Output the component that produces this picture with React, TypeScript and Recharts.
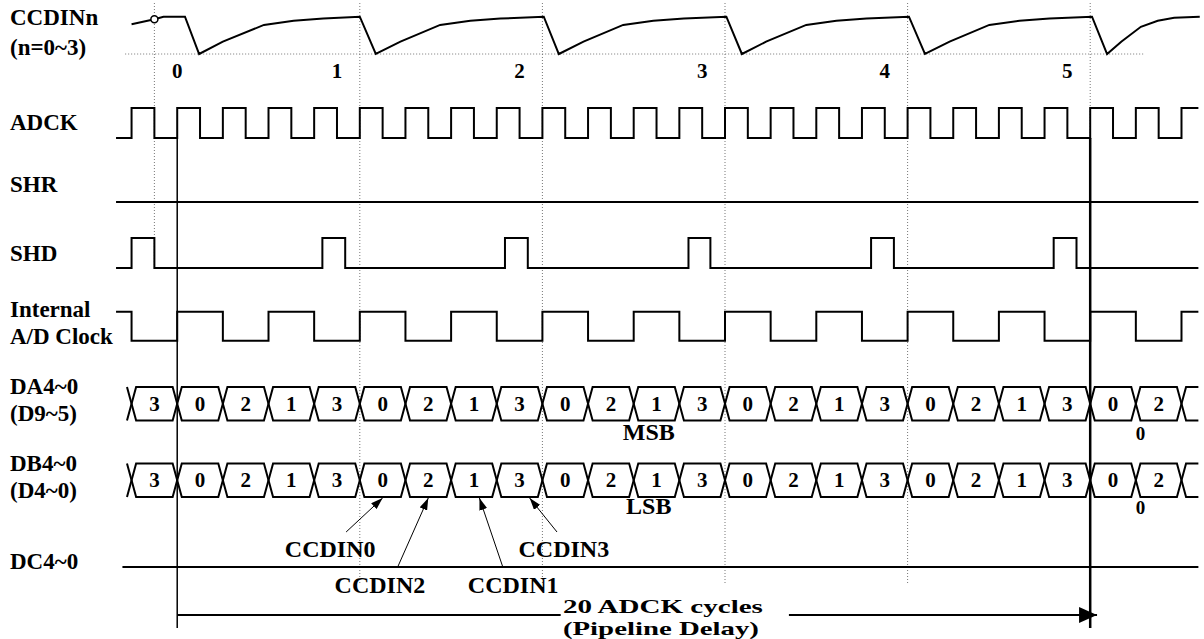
import { ComposedChart, Line, Scatter, XAxis, YAxis } from "recharts";

const W = 1204;
const H = 639;
const FONT = '"Liberation Serif", "Times New Roman", serif';

// time axis in ADCK cycles, 0 = start of the 20-cycle pipeline delay
const T_MIN = -3.882;
const T_MAX = 22.493;

// CCDINn analog input (time, normalized level 0 = dip, 1 = settled)
const ccdinT = [-1.0, -0.5, -0.3, 0.17, 0.48, 1.0, 1.9, 2.55, 3.2, 4.0, 4.35, 4.89, 5.76, 6.42, 7.08, 8.03, 8.36, 8.9, 9.77, 10.43, 11.1, 12.03, 12.37, 12.9, 13.78, 14.44, 15.1, 16.03, 16.38, 16.92, 17.79, 18.45, 19.11, 20.04, 20.37, 20.68, 21.11, 21.48, 21.84, 22.4];
const ccdinV = [0.8, 0.93, 1.0, 1.0, 0, 0.33, 0.78, 0.89, 0.95, 1.0, 0, 0.33, 0.78, 0.89, 0.95, 1.0, 0, 0.33, 0.78, 0.89, 0.95, 1.0, 0, 0.33, 0.78, 0.89, 0.95, 1.0, 0, 0.33, 0.78, 0.89, 0.95, 1.0, 0, 0.33, 0.73, 0.89, 0.97, 1.0];
const ccdinSampleT = [-0.5];
const ccdinSampleV = [0.93];
const ccdinFloorT = [-1.14, 21.16];

// ADCK
const adckT = [-1.34, -1, -0.5, 0, 0.5, 1, 1.5, 2, 2.5, 3, 3.5, 4, 4.5, 5, 5.5, 6, 6.5, 7, 7.5, 8, 8.5, 9, 9.5, 10, 10.5, 11, 11.5, 12, 12.5, 13, 13.5, 14, 14.5, 15, 15.5, 16, 16.5, 17, 17.5, 18, 18.5, 19, 19.5, 20, 20.5, 21, 21.5, 22, 22.37];
const adckV = [0, 1, 0, 1, 0, 1, 0, 1, 0, 1, 0, 1, 0, 1, 0, 1, 0, 1, 0, 1, 0, 1, 0, 1, 0, 1, 0, 1, 0, 1, 0, 1, 0, 1, 0, 1, 0, 1, 0, 1, 0, 1, 0, 1, 0, 1, 0, 1, 1];

// SHR (held low)
const shrT = [-1.34, 22.37];
const shrV = [0, 0];

// SHD
const shdT = [-1.34, -1, -0.5, 3.18, 3.68, 7.18, 7.68, 11.2, 11.68, 15.2, 15.7, 19.2, 19.7, 22.37];
const shdV = [0, 1, 0, 1, 0, 1, 0, 1, 0, 1, 0, 1, 0, 0];

// Internal A/D clock
const adClkT = [-1.34, -1, 0, 1, 2, 3, 4, 5, 6, 7, 8, 9, 10, 11, 12, 13, 14, 15, 16, 17, 18, 19, 20, 21, 22, 22.37];
const adClkV = [1, 0, 1, 0, 1, 0, 1, 0, 1, 0, 1, 0, 1, 0, 1, 0, 1, 0, 1, 0, 1, 0, 1, 0, 1, 1];

// output buses
const busEdges = [-1, 0, 1, 2, 3, 4, 5, 6, 7, 8, 9, 10, 11, 12, 13, 14, 15, 16, 17, 18, 19, 20, 21, 22];
const busEnd = 22.37;
const daCodes = ["3", "0", "2", "1", "3", "0", "2", "1", "3", "0", "2", "1", "3", "0", "2", "1", "3", "0", "2", "1", "3", "0", "2"];
const dbCodes = ["3", "0", "2", "1", "3", "0", "2", "1", "3", "0", "2", "1", "3", "0", "2", "1", "3", "0", "2", "1", "3", "0", "2"];
const dcT = [-1.2, 22.37];
const dcV = [0, 0];

// pixel markers
const pixelMarkT = [-0.5, 4, 8, 12, 16, 20];
const pixelLabelT = [0, 3.5, 7.5, 11.5, 15.5, 19.5];
const pixelLabels = ["0", "1", "2", "3", "4", "5"];

// CCDIN call-outs on DB4~0
const tagNames = ["CCDIN0", "CCDIN2", "CCDIN1", "CCDIN3"];
const tagTipT = [4.5, 5.5, 6.62, 7.72];
const tagTailT = [3.7, 4.82, 7.14, 8.32];
const tagTextT = [3.35, 4.44, 7.36, 8.47];

const pipelineStart = 0;
const pipelineEnd = 20;

// vertical layout of each row (px)
const ROW = {
  ccdin: { hi: 16.7, lo: 54 },
  adck: { hi: 108, lo: 138 },
  shr: { hi: 172, lo: 202 },
  shd: { hi: 238, lo: 268 },
  adclk: { hi: 311.7, lo: 340.7 },
  da: { hi: 387, lo: 420.5 },
  db: { hi: 463.5, lo: 497 },
  dc: { hi: 537, lo: 567 },
};
type Row = { hi: number; lo: number };

const lvl = (row: Row, v: number) => row.lo - v * (row.lo - row.hi);
const wave = (ts: number[], vs: number[], row: Row) => ts.map((t, i) => ({ t, y: lvl(row, vs[i]) }));

const X = 0.1; // half width of a bus crossing
function busLines(row: Row) {
  const a: { t: number; y: number }[] = [];
  const b: { t: number; y: number }[] = [];
  busEdges.forEach((e, i) => {
    const even = i % 2 === 0;
    a.push({ t: e - X, y: even ? row.hi : row.lo }, { t: e + X, y: even ? row.lo : row.hi });
    b.push({ t: e - X, y: even ? row.lo : row.hi }, { t: e + X, y: even ? row.hi : row.lo });
  });
  const lastEven = (busEdges.length - 1) % 2 === 0;
  a.push({ t: busEnd, y: lastEven ? row.lo : row.hi });
  b.push({ t: busEnd, y: lastEven ? row.hi : row.lo });
  return [a, b];
}

const [daA, daB] = busLines(ROW.da);
const [dbA, dbB] = busLines(ROW.db);

const PIPE_Y = 615;

type Seg = { key: string; data: { t: number; y: number }[]; step?: boolean; w?: number; dash?: string; color?: string; marker?: string };

const lines: Seg[] = [
  ...pixelMarkT.map((t, i) => ({
    key: "mark" + i,
    data: [{ t, y: 3 }, { t, y: i === 0 ? 268 : 583 }],
    w: 1,
    dash: "1 2",
    color: "#777",
  })),
  { key: "floor", data: ccdinFloorT.map((t) => ({ t, y: ROW.ccdin.lo })), w: 1, dash: "1 2", color: "#777" },
  { key: "ccdin", data: wave(ccdinT, ccdinV, ROW.ccdin) },
  { key: "adck", data: wave(adckT, adckV, ROW.adck), step: true },
  { key: "shr", data: wave(shrT, shrV, ROW.shr), step: true },
  { key: "shd", data: wave(shdT, shdV, ROW.shd), step: true },
  { key: "adclk", data: wave(adClkT, adClkV, ROW.adclk), step: true },
  { key: "daA", data: daA },
  { key: "daB", data: daB },
  { key: "dbA", data: dbA },
  { key: "dbB", data: dbB },
  { key: "dc", data: wave(dcT, dcV, ROW.dc), step: true },
  { key: "start", data: [{ t: pipelineStart, y: ROW.adck.lo }, { t: pipelineStart, y: 628 }], w: 1.5 },
  { key: "end", data: [{ t: pipelineEnd, y: ROW.adck.lo }, { t: pipelineEnd, y: 628 }], w: 2.5 },
  { key: "pipeL", data: [{ t: pipelineStart, y: PIPE_Y }, { t: 8.4, y: PIPE_Y }], w: 2 },
  { key: "pipeR", data: [{ t: 13.4, y: PIPE_Y }, { t: pipelineEnd + 0.15, y: PIPE_Y }], w: 2, marker: "url(#tipLarge)" },
  ...tagNames.map((n, i) => ({
    key: "tag" + n,
    data: [
      { t: tagTailT[i], y: i === 0 || i === 3 ? 532 : 568 },
      { t: tagTipT[i], y: ROW.db.lo + 1 },
    ],
    w: 1,
    marker: "url(#tipSmall)",
  })),
];

type Txt = { t: number; y: number; text: string; size: number; anchor?: string; len?: number };
const texts: Txt[] = [
  ...pixelLabels.map((s, i) => ({ t: pixelLabelT[i], y: 71, text: s, size: 21 })),
  ...daCodes.map((s, i) => ({ t: (busEdges[i] + busEdges[i + 1]) / 2, y: (ROW.da.hi + ROW.da.lo) / 2, text: s, size: 21 })),
  ...dbCodes.map((s, i) => ({ t: (busEdges[i] + busEdges[i + 1]) / 2, y: (ROW.db.hi + ROW.db.lo) / 2, text: s, size: 21 })),
  { t: 10.33, y: 432, text: "MSB", size: 24 },
  { t: 10.33, y: 506, text: "LSB", size: 24 },
  { t: 21.1, y: 433, text: "0", size: 19 },
  { t: 21.1, y: 507, text: "0", size: 19 },
  ...tagNames.map((s, i) => ({ t: tagTextT[i], y: i === 0 || i === 3 ? 549 : 585, text: s, size: 24 })),
  { t: 8.45, y: 606, text: "20 ADCK cycles", size: 19, anchor: "start", len: 200 },
  { t: 8.45, y: 628, text: "(Pipeline Delay)", size: 19, anchor: "start", len: 196 },
];

const rowLabels = [
  { text: "CCDINn", y: 18 },
  { text: "(n=0~3)", y: 48 },
  { text: "ADCK", y: 123 },
  { text: "SHR", y: 185 },
  { text: "SHD", y: 254 },
  { text: "Internal", y: 310 },
  { text: "A/D Clock", y: 337 },
  { text: "DA4~0", y: 387 },
  { text: "(D9~5)", y: 414 },
  { text: "DB4~0", y: 464 },
  { text: "(D4~0)", y: 491 },
  { text: "DC4~0", y: 562 },
];

const TextMark = (props: any) => {
  const { cx, cy, payload } = props;
  return (
    <text
      x={cx}
      y={cy}
      textAnchor={payload.anchor || "middle"}
      dominantBaseline="central"
      fontFamily={FONT}
      fontWeight="bold"
      fontSize={payload.size}
      textLength={payload.len}
      lengthAdjust={payload.len ? "spacingAndGlyphs" : undefined}
      fill="#000"
    >
      {payload.text}
    </text>
  );
};

const SampleDot = (props: any) => (
  <circle cx={props.cx} cy={props.cy} r={3.5} fill="#fff" stroke="#000" strokeWidth={1.5} />
);

export default function App() {
  return (
    <div style={{ position: "absolute", left: 0, top: 0, width: W, height: H, background: "#fff", overflow: "hidden" }}>
      <svg width={0} height={0} style={{ position: "absolute" }}>
        <defs>
          <marker id="tipSmall" viewBox="0 0 12 8" refX="12" refY="4" markerWidth="12" markerHeight="8" markerUnits="userSpaceOnUse" orient="auto">
            <path d="M0,0 L12,4 L0,8 z" fill="#000" />
          </marker>
          <marker id="tipLarge" viewBox="0 0 18 16" refX="18" refY="8" markerWidth="18" markerHeight="16" markerUnits="userSpaceOnUse" orient="auto">
            <path d="M0,0 L18,8 L0,16 z" fill="#000" />
          </marker>
        </defs>
      </svg>
      <ComposedChart width={W} height={H} margin={{ top: 0, right: 0, bottom: 0, left: 0 }}>
        <XAxis type="number" dataKey="t" domain={[T_MIN, T_MAX]} allowDataOverflow hide />
        <YAxis type="number" dataKey="y" domain={[0, H]} reversed allowDataOverflow hide />
        {lines.map((s) => (
          <Line
            key={s.key}
            data={s.data}
            dataKey="y"
            type={s.step ? "stepAfter" : "linear"}
            stroke={s.color || "#000"}
            strokeWidth={s.w || 2}
            strokeDasharray={s.dash}
            markerEnd={s.marker}
            dot={false}
            activeDot={false}
            isAnimationActive={false}
          />
        ))}
        <Scatter
          data={ccdinSampleT.map((t, i) => ({ t, y: lvl(ROW.ccdin, ccdinSampleV[i]) }))}
          dataKey="y"
          shape={SampleDot}
          isAnimationActive={false}
        />
        <Scatter data={texts} dataKey="y" shape={TextMark} isAnimationActive={false} />
      </ComposedChart>
      {rowLabels.map((r) => (
        <div
          key={r.text}
          style={{
            position: "absolute",
            left: 10,
            top: r.y,
            transform: "translateY(-50%)",
            fontFamily: FONT,
            fontWeight: "bold",
            fontSize: 23,
            lineHeight: "20px",
            whiteSpace: "nowrap",
            color: "#000",
          }}
        >
          {r.text}
        </div>
      ))}
    </div>
  );
}
